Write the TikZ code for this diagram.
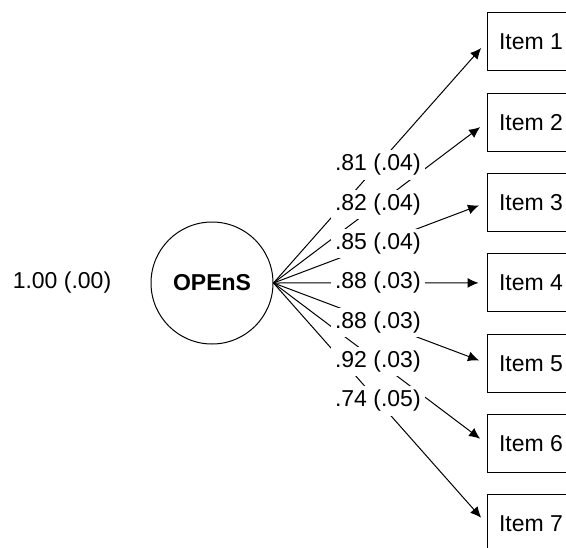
\documentclass[tikz,border=0pt]{standalone}
\usepackage{fontspec}
\setmainfont{Liberation Sans}
\usetikzlibrary{arrows.meta}

\begin{document}
\begin{tikzpicture}[x=0.5pt,y=0.5pt,font=\fontsize{11.5}{14}\selectfont,line width=0.5pt]

% Styles
\tikzset{
  latent/.style={draw,circle,minimum size=61pt,inner sep=0pt,font=\fontsize{11.5}{14}\selectfont\bfseries},
  itembox/.style={draw,rectangle,minimum width=44pt,minimum height=29pt,inner sep=0pt},
  loading/.style={-{Latex[length=5.5pt,width=5pt]},shorten >=4pt},
  est/.style={fill=white,inner sep=2pt}
}

% Frame
\useasboundingbox (0,0) rectangle (566,547);
\clip (0,0) rectangle (566,547);

% Factor
\node[latent] (opens) at (212,264) {OPEnS};
\node (var) at (62,264) {1.00 (.00)};

% Items
\foreach \i in {1,...,7} {
  \node[itembox] (item\i) at (531,{505-80.3*(\i-1)}) {Item \i};
}

% Loadings
\foreach \i in {1,...,7} {
  \draw[loading] (opens.east) -- coordinate[pos=0.49] (m\i) (item\i.west);
}

% Estimates
\foreach \i/\est in {1/.81 (.04),2/.82 (.04),3/.85 (.04),4/.88 (.03),5/.88 (.03),6/.92 (.03),7/.74 (.05)} {
  \node[est] (est\i) at (m\i) {\est};
}

\end{tikzpicture}
\end{document}
